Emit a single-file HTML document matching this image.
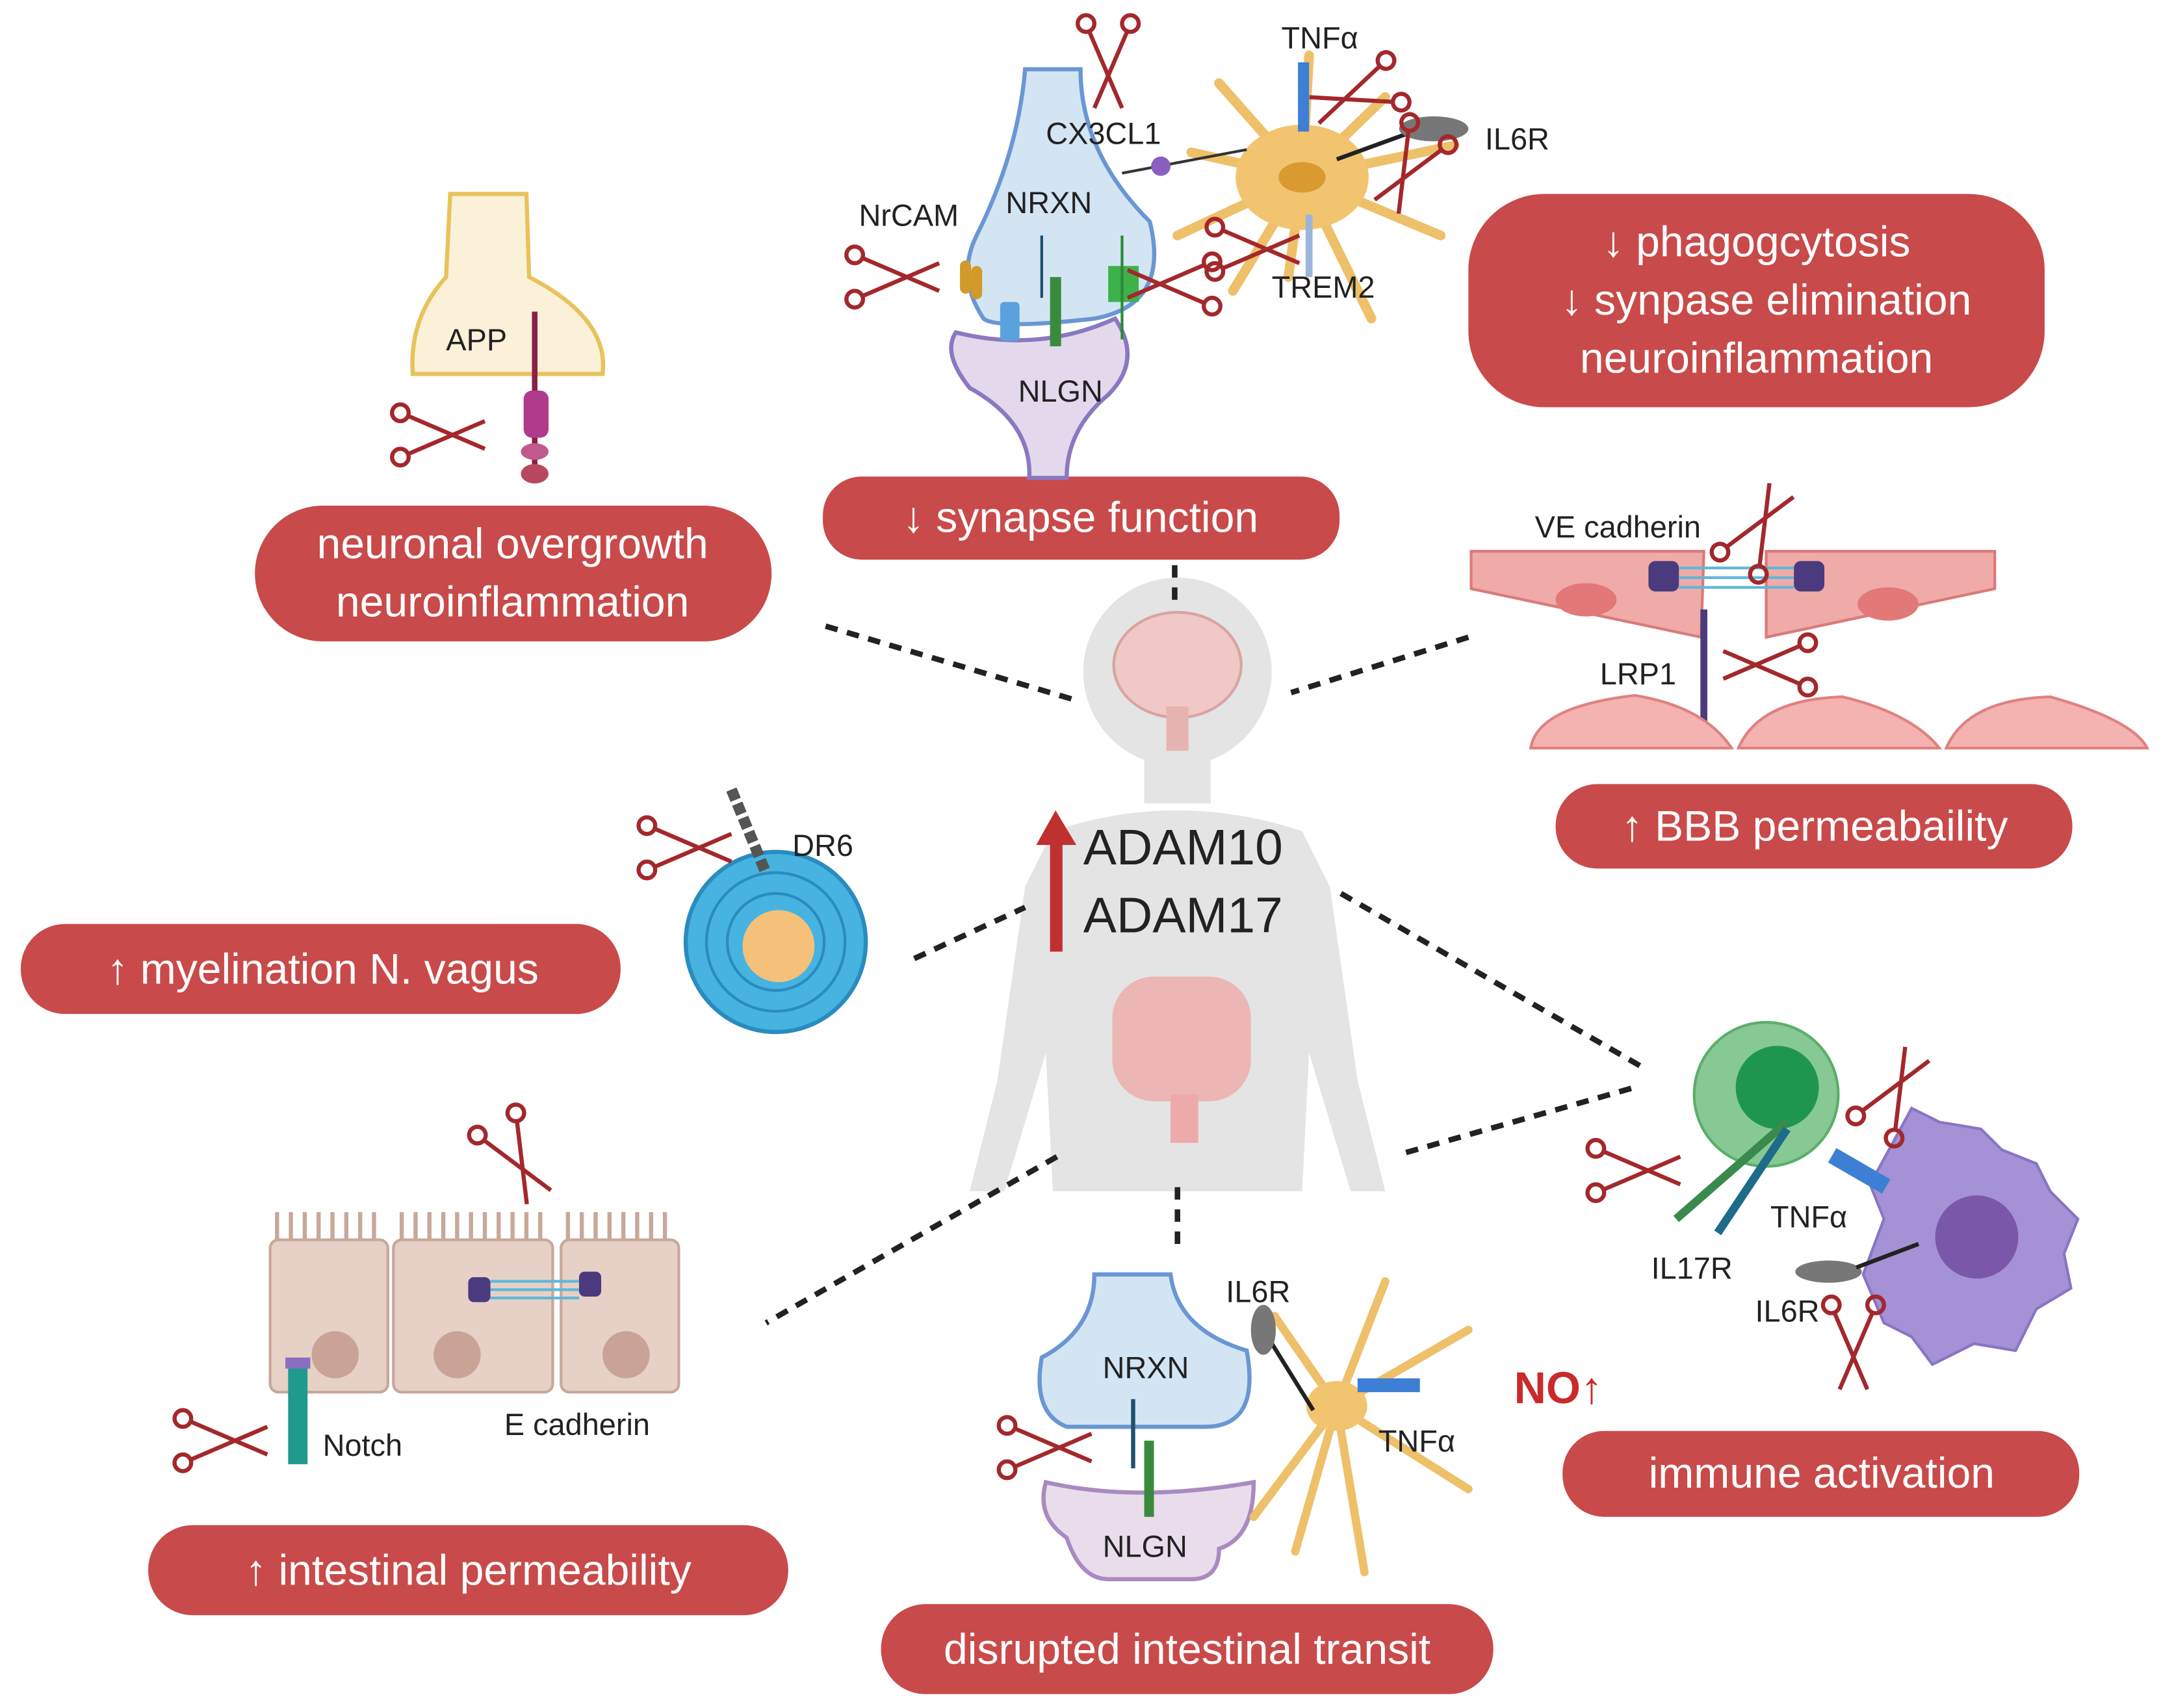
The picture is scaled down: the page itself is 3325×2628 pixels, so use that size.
<!DOCTYPE html>
<html><head><meta charset="utf-8"><style>
html,body{margin:0;padding:0;background:#fff;}
svg{display:block;}
text{font-family:"Liberation Sans",sans-serif;}
.lb{fill:#222;font-size:22px;}
.bt{fill:#fff;font-size:31px;text-anchor:middle;}
.box{fill:#c94a4a;}
.dash{stroke:#222;stroke-width:4;stroke-dasharray:9 7;fill:none;}
</style></head><body>
<svg width="3325" height="2628" viewBox="0 0 1560 1233" preserveAspectRatio="none" xmlns="http://www.w3.org/2000/svg">
<defs>
<g id="sc" stroke="#a3282c" stroke-width="3" fill="none">
<line x1="-28" y1="-14" x2="28" y2="10"/><line x1="-28" y1="14" x2="28" y2="-10"/>
<circle cx="-33" cy="-16" r="6"/><circle cx="-33" cy="16" r="6"/>
</g>
</defs>
<rect width="1560" height="1233" fill="#fff"/>

<!-- body silhouette -->
<g fill="#e4e4e4">
<circle cx="850" cy="485" r="68"/>
<rect x="826" y="540" width="48" height="40"/>
<path d="M760 600 Q850 570 940 600 L960 640 L980 780 L1000 860 L975 860 L945 760 L940 860 L760 860 L755 760 L725 860 L700 860 L720 780 L740 640 Z"/>
</g>
<!-- brain -->
<ellipse cx="850" cy="480" rx="46" ry="38" fill="#f0c8c6" stroke="#d8a4a2" stroke-width="2"/>
<rect x="842" y="510" width="16" height="32" fill="#e7b3b0"/>
<!-- gut -->
<rect x="803" y="705" width="100" height="90" rx="30" fill="#eeaaa8" opacity="0.8"/>
<rect x="845" y="790" width="20" height="35" fill="#eeaaa8"/>

<!-- ADAM -->
<rect x="758" y="605" width="9" height="82" fill="#c0302f"/>
<polygon points="748,610 762,585 777,610" fill="#c0302f"/>
<text x="782" y="624" font-size="36" fill="#222">ADAM10</text>
<text x="782" y="673" font-size="36" fill="#222">ADAM17</text>

<!-- dashed lines -->
<line class="dash" x1="848" y1="408" x2="848" y2="436"/>
<line class="dash" x1="596" y1="452" x2="775" y2="505"/>
<line class="dash" x1="1060" y1="460" x2="932" y2="500"/>
<line class="dash" x1="660" y1="692" x2="740" y2="655"/>
<line class="dash" x1="968" y1="645" x2="1185" y2="770"/>
<line class="dash" x1="1015" y1="832" x2="1180" y2="785"/>
<line class="dash" x1="763" y1="835" x2="553" y2="955"/>
<line class="dash" x1="850" y1="857" x2="850" y2="905"/>

<!-- boxes -->
<rect class="box" x="184" y="365" width="373" height="98" rx="49"/>
<text class="bt" x="370" y="403">neuronal overgrowth</text><text class="bt" x="370" y="445">neuroinflammation</text>
<rect class="box" x="594" y="344" width="373" height="60" rx="28"/>
<text class="bt" x="780" y="384">↓ synapse function</text>
<rect class="box" x="1060" y="140" width="416" height="154" rx="55"/>
<text class="bt" x="1268" y="185">↓ phagogcytosis</text><text class="bt" x="1275" y="227">↓ synpase elimination</text><text class="bt" x="1268" y="269">neuroinflammation</text>
<rect class="box" x="1123" y="566" width="373" height="61" rx="30"/>
<text class="bt" x="1310" y="607">↑ BBB permeabaility</text>
<rect class="box" x="15" y="667" width="433" height="65" rx="32"/>
<text class="bt" x="233" y="710">↑ myelination N. vagus</text>
<rect class="box" x="1128" y="1033" width="373" height="62" rx="30"/>
<text class="bt" x="1315" y="1074">immune activation</text>
<rect class="box" x="107" y="1101" width="462" height="65" rx="32"/>
<text class="bt" x="338" y="1144">↑ intestinal permeability</text>
<rect class="box" x="636" y="1158" width="442" height="65" rx="32"/>
<text class="bt" x="857" y="1201">disrupted intestinal transit</text>

<!-- APP synapse -->
<path d="M325 140 L380 140 L382 200 Q440 230 435 270 L298 270 Q295 230 322 200 Z" fill="#fbf1d9" stroke="#e8c25b" stroke-width="3"/>
<text class="lb" x="322" y="253">APP</text>
<line x1="386" y1="225" x2="386" y2="340" stroke="#8a2046" stroke-width="4"/>
<rect x="378" y="282" width="18" height="34" rx="6" fill="#b03a8b"/>
<ellipse cx="386" cy="326" rx="10" ry="6" fill="#c05a8a"/><ellipse cx="386" cy="342" rx="10" ry="7" fill="#b84860"/>
<use href="#sc" transform="translate(322,314)"/>

<!-- top synapse -->
<path d="M740 50 L780 50 Q780 110 830 160 Q845 220 790 230 Q720 238 710 230 Q690 200 705 170 Q735 110 740 50 Z" fill="#d3e5f3" stroke="#6a96d4" stroke-width="3"/>
<path d="M690 240 Q750 255 805 230 Q825 260 800 285 Q770 310 770 345 L743 345 Q745 305 700 280 Q680 255 690 240 Z" fill="#e4d9ec" stroke="#8a78c0" stroke-width="3"/>
<text class="lb" x="726" y="154">NRXN</text><text class="lb" x="620" y="163">NrCAM</text>
<text class="lb" x="735" y="290">NLGN</text><text class="lb" x="755" y="104">CX3CL1</text>
<rect x="758" y="200" width="8" height="50" fill="#3a8a3e"/><line x1="752" y1="170" x2="752" y2="215" stroke="#1d5070" stroke-width="2"/>
<rect x="722" y="218" width="14" height="28" rx="3" fill="#5aa2dd"/>
<rect x="693" y="188" width="8" height="24" rx="4" fill="#d29a2a"/><rect x="701" y="192" width="8" height="24" rx="4" fill="#d29a2a"/>
<rect x="800" y="192" width="22" height="26" fill="#3db24a"/><line x1="810" y1="170" x2="810" y2="245" stroke="#2a8a3a" stroke-width="2"/>
<use href="#sc" transform="translate(650,200)"/><use href="#sc" transform="translate(842,205) scale(-1,1)"/>
<use href="#sc" transform="translate(800,50) rotate(90)"/>
<!-- microglia -->
<g stroke="#eec06a" stroke-width="7" fill="none" stroke-linecap="round">
<path d="M940 128 L880 60 M940 128 L860 110 M940 128 L850 170 M940 128 L890 210 M940 128 L945 40 M940 128 L1000 70 M940 128 L1050 105 M940 128 L1040 170 M940 128 L990 230 M940 128 L930 200"/>
</g>
<ellipse cx="940" cy="128" rx="48" ry="38" fill="#f2c46f"/>
<ellipse cx="940" cy="128" rx="17" ry="11" fill="#d99a30"/>
<text class="lb" x="925" y="35">TNFα</text><text class="lb" x="1072" y="108">IL6R</text><text class="lb" x="918" y="215">TREM2</text>
<rect x="937" y="45" width="8" height="50" fill="#3d7fd4"/>
<line x1="965" y1="115" x2="1020" y2="95" stroke="#222" stroke-width="3"/><ellipse cx="1035" cy="93" rx="25" ry="9" fill="#777"/>
<line x1="945" y1="155" x2="945" y2="200" stroke="#9bb4da" stroke-width="5"/>
<line x1="810" y1="125" x2="900" y2="108" stroke="#333" stroke-width="2"/><circle cx="838" cy="120" r="7" fill="#8b5fc0"/>
<use href="#sc" transform="translate(975,70) rotate(160)"/><use href="#sc" transform="translate(1015,125) rotate(120)"/><use href="#sc" transform="translate(910,180)"/>

<!-- BBB -->
<path d="M1062 398 L1230 398 L1228 460 L1062 425 Z" fill="#f0aaa8" stroke="#d97a7a" stroke-width="2"/>
<path d="M1275 398 L1440 398 L1440 425 L1275 460 Z" fill="#f0aaa8" stroke="#d97a7a" stroke-width="2"/>
<ellipse cx="1145" cy="433" rx="22" ry="12" fill="#e27878"/><ellipse cx="1363" cy="436" rx="22" ry="12" fill="#e27878"/>
<rect x="1190" y="405" width="22" height="22" rx="5" fill="#4b3b7e"/><rect x="1295" y="405" width="22" height="22" rx="5" fill="#4b3b7e"/>
<g stroke="#5fb8d8" stroke-width="2"><line x1="1212" y1="410" x2="1295" y2="410"/><line x1="1212" y1="417" x2="1295" y2="417"/><line x1="1212" y1="424" x2="1295" y2="424"/></g>
<text class="lb" x="1108" y="388">VE cadherin</text><text class="lb" x="1155" y="494">LRP1</text>
<line x1="1230" y1="440" x2="1230" y2="530" stroke="#4b3b7e" stroke-width="5"/>
<path d="M1105 540 Q1110 510 1180 502 Q1230 510 1250 540 Z M1255 540 Q1270 505 1330 503 Q1380 515 1400 540 Z M1405 540 Q1420 505 1480 503 Q1540 520 1550 540 Z" fill="#f4b2b0" stroke="#e08080" stroke-width="2"/>
<use href="#sc" transform="translate(1272,378) rotate(-60)"/><use href="#sc" transform="translate(1272,480) scale(-1,1)"/>

<!-- myelin -->
<circle cx="560" cy="680" r="65" fill="#47b3e0" stroke="#2a8bc0" stroke-width="3"/>
<circle cx="560" cy="680" r="50" fill="none" stroke="#2a8bc0" stroke-width="2"/>
<circle cx="560" cy="680" r="35" fill="none" stroke="#2a8bc0" stroke-width="2"/>
<circle cx="562" cy="683" r="26" fill="#f5c17a"/>
<line x1="528" y1="570" x2="552" y2="628" stroke="#555" stroke-width="8" stroke-dasharray="8 3"/>
<text class="lb" x="572" y="618">DR6</text>
<use href="#sc" transform="translate(500,612)"/>

<!-- intestine cells -->
<g fill="#e7d0c6" stroke="#c8a89a" stroke-width="2">
<rect x="195" y="895" width="85" height="110" rx="6"/><rect x="284" y="895" width="115" height="110" rx="6"/><rect x="405" y="895" width="85" height="110" rx="6"/>
</g>
<g stroke="#c8a89a" stroke-width="3">
<path d="M200 895 V875 M210 895 V875 M220 895 V875 M230 895 V875 M240 895 V875 M250 895 V875 M260 895 V875 M270 895 V875 M290 895 V875 M300 895 V875 M310 895 V875 M320 895 V875 M330 895 V875 M340 895 V875 M350 895 V875 M360 895 V875 M370 895 V875 M380 895 V875 M390 895 V875 M410 895 V875 M420 895 V875 M430 895 V875 M440 895 V875 M450 895 V875 M460 895 V875 M470 895 V875 M480 895 V875"/>
</g>
<circle cx="242" cy="978" r="17" fill="#c9a395"/><circle cx="330" cy="978" r="17" fill="#c9a395"/><circle cx="452" cy="978" r="17" fill="#c9a395"/>
<rect x="338" y="922" width="16" height="18" rx="4" fill="#4b3b7e"/><rect x="418" y="918" width="16" height="18" rx="4" fill="#4b3b7e"/>
<g stroke="#5fb8d8" stroke-width="2"><line x1="354" y1="925" x2="418" y2="925"/><line x1="354" y1="931" x2="418" y2="931"/><line x1="354" y1="937" x2="418" y2="937"/></g>
<rect x="208" y="985" width="14" height="72" fill="#1f9a8c"/><rect x="206" y="980" width="18" height="8" fill="#8a6fc0"/>
<text class="lb" x="233" y="1051">Notch</text><text class="lb" x="364" y="1036">E cadherin</text>
<use href="#sc" transform="translate(165,1040)"/><use href="#sc" transform="translate(375,840) rotate(60)"/>

<!-- bottom synapse -->
<path d="M790 920 L845 920 Q850 960 900 975 Q910 1030 870 1030 L770 1030 Q745 1020 752 980 Q790 960 790 920 Z" fill="#d3e5f3" stroke="#6a96d4" stroke-width="3"/>
<path d="M755 1070 Q820 1085 905 1070 Q905 1110 880 1118 Q880 1140 860 1140 L800 1140 Q780 1140 770 1110 Q748 1095 755 1070 Z" fill="#e9ddec" stroke="#a98ac0" stroke-width="3"/>
<text class="lb" x="796" y="995">NRXN</text><text class="lb" x="796" y="1124">NLGN</text>
<line x1="818" y1="1010" x2="818" y2="1060" stroke="#1d5070" stroke-width="3"/><rect x="826" y="1040" width="7" height="55" fill="#3a8a3e"/>
<use href="#sc" transform="translate(760,1045)"/>
<g stroke="#eec06a" stroke-width="6" fill="none" stroke-linecap="round">
<path d="M965 1015 L920 950 M965 1015 L1000 925 M965 1015 L1060 960 M965 1015 L1060 1075 M965 1015 L985 1135 M965 1015 L935 1120 M965 1015 L905 1095"/>
</g>
<ellipse cx="965" cy="1015" rx="22" ry="18" fill="#f2c46f"/>
<text class="lb" x="885" y="940">IL6R</text><text class="lb" x="995" y="1048">TNFα</text>
<line x1="948" y1="1018" x2="912" y2="960" stroke="#222" stroke-width="3"/><ellipse cx="912" cy="960" rx="9" ry="18" fill="#777"/>
<rect x="980" y="995" width="45" height="10" fill="#3d7fd4"/>
<text x="1093" y="1013" font-size="32" font-weight="bold" fill="#c92a2a">NO↑</text>

<!-- immune -->
<circle cx="1275" cy="790" r="52" fill="#86c994" stroke="#5cae6c" stroke-width="2"/>
<circle cx="1283" cy="785" r="30" fill="#1e9650"/>
<path d="M1380 800 L1400 810 L1430 815 L1445 830 L1470 840 L1480 860 L1500 880 L1490 905 L1495 930 L1470 945 L1455 975 L1425 970 L1395 985 L1380 965 L1360 955 L1345 920 L1360 880 L1350 855 Z" fill="#a491d6" stroke="#8a74c4" stroke-width="2"/>
<circle cx="1427" cy="893" r="30" fill="#7a57a8"/>
<line x1="1210" y1="880" x2="1290" y2="810" stroke="#3a8a4e" stroke-width="6"/><line x1="1240" y1="890" x2="1290" y2="815" stroke="#1e6b8a" stroke-width="6"/>
<rect x="1320" y="838" width="45" height="12" fill="#3d7fd4" transform="rotate(30 1340 844)"/>
<ellipse cx="1320" cy="918" rx="24" ry="8" fill="#777"/><line x1="1340" y1="915" x2="1385" y2="898" stroke="#222" stroke-width="3"/>
<text class="lb" x="1278" y="886">TNFα</text><text class="lb" x="1192" y="923">IL17R</text><text class="lb" x="1267" y="954">IL6R</text>
<use href="#sc" transform="translate(1185,845)"/><use href="#sc" transform="translate(1370,785) rotate(-60)"/><use href="#sc" transform="translate(1338,975) rotate(90)"/>
</svg>
</body></html>
